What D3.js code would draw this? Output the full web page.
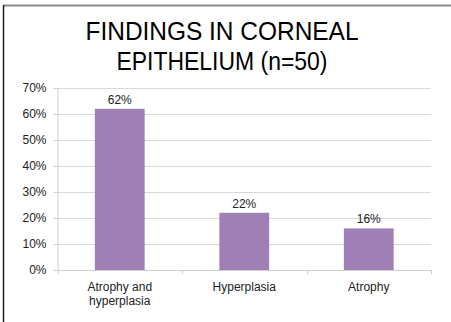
<!DOCTYPE html>
<html><head><meta charset="utf-8">
<script src="https://cdn.jsdelivr.net/npm/d3@7"></script>
<style>body{margin:0;background:#fff;}svg{display:block;font-family:"Liberation Sans",Arial,sans-serif;}</style>
</head><body>
<svg id="c" width="451" height="322"></svg>
<script>
const categories = [["Atrophy and","hyperplasia"],["Hyperplasia"],["Atrophy"]];
const values = [62, 22, 16];
const yTicks = [0,10,20,30,40,50,60,70];
const titleLines = ["FINDINGS IN CORNEAL","EPITHELIUM (n=50)"];

const svg = d3.select("#c");
const m = {left:57.5, right:431, top:88, bottom:270};
const x = d3.scaleBand().domain(categories.map((d,i)=>i)).range([m.left,m.right]).paddingInner(0.6).paddingOuter(0.3);
const y = d3.scaleLinear().domain([0,70]).range([m.bottom,m.top]);

// frame
svg.append("line").attr("x1",3).attr("x2",451).attr("y1",5.5).attr("y2",5.5).attr("stroke","#8a8a8a").attr("stroke-width",2);
svg.append("line").attr("x1",3.5).attr("x2",3.5).attr("y1",5).attr("y2",322).attr("stroke","#222").attr("stroke-width",1.5);

// title
const titleWidths = [273, 211];
svg.selectAll("text.title").data(titleLines).enter().append("text")
  .attr("class","title")
  .attr("x",222).attr("y",(d,i)=>40+i*30).attr("text-anchor","middle")
  .attr("font-size",26).attr("fill","#000")
  .attr("textLength",(d,i)=>titleWidths[i]).attr("lengthAdjust","spacingAndGlyphs")
  .text(d=>d);

// gridlines
svg.append("g").selectAll("line").data(yTicks.filter(t=>t>0)).enter().append("line")
  .attr("x1",m.left).attr("x2",m.right).attr("y1",d=>Math.round(y(d))+0.5).attr("y2",d=>Math.round(y(d))+0.5)
  .attr("stroke","#d9d9d9").attr("stroke-width",1);

// y axis
const ya = svg.append("g").attr("transform",`translate(${m.left},0)`)
  .call(d3.axisLeft(y).tickValues(yTicks).tickFormat(d=>d+"%").tickSize(4).tickPadding(7));
ya.select(".domain").attr("stroke","#d0d0d0");
ya.selectAll(".tick line").attr("stroke","#d0d0d0");
ya.selectAll("text").attr("font-size",12).attr("fill","#222").attr("font-family","Liberation Sans, Arial, sans-serif");

// bars
svg.append("g").selectAll("rect").data(values).enter().append("rect")
  .attr("x",(d,i)=>x(i)).attr("width",x.bandwidth())
  .attr("y",d=>y(d)).attr("height",d=>y(0)-y(d)).attr("fill","#9f7fb6");

// value labels
svg.append("g").selectAll("text").data(values).enter().append("text")
  .attr("x",(d,i)=>x(i)+x.bandwidth()/2).attr("y",d=>y(d)-5).attr("text-anchor","middle")
  .attr("font-size",12).attr("fill","#222").text(d=>d+"%");

// x axis baseline and ticks
const step = (m.right-m.left)/categories.length;
svg.append("line").attr("x1",m.left).attr("x2",m.right).attr("y1",m.bottom+0.5).attr("y2",m.bottom+0.5).attr("stroke","#d0d0d0");
svg.append("g").selectAll("line").data(d3.range(categories.length+1)).enter().append("line")
  .attr("x1",i=>Math.round(m.left+i*step)+0.5).attr("x2",i=>Math.round(m.left+i*step)+0.5)
  .attr("y1",m.bottom).attr("y2",m.bottom+4).attr("stroke","#d0d0d0");

// category labels
const cl = svg.append("g").selectAll("text").data(categories).enter().append("text")
  .attr("text-anchor","middle").attr("font-size",12).attr("fill","#222");
cl.each(function(d,i){
  const t = d3.select(this);
  d.forEach((line,j)=>{
    t.append("tspan").attr("x",x(i)+x.bandwidth()/2).attr("y",291+j*13.5).text(line);
  });
});
</script>
</body></html>
